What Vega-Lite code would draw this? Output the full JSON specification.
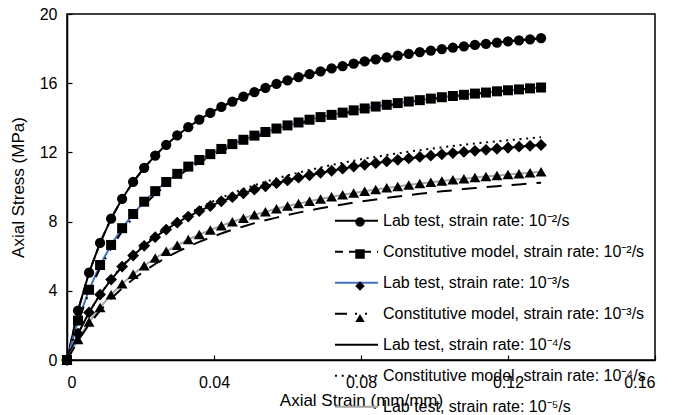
{
  "$schema": "https://vega.github.io/schema/vega-lite/v6.json",
  "width": 588,
  "height": 346,
  "autosize": "none",
  "padding": {"left": 67, "top": 14, "right": 18, "bottom": 55},
  "background": "white",
  "config": {
    "font": "Liberation Sans",
    "view": {"stroke": "black", "strokeWidth": 1.5},
    "axis": {
      "grid": false,
      "domainColor": "black",
      "domainWidth": 1.5,
      "tickColor": "black",
      "tickWidth": 1.2,
      "tickSize": -5,
      "labelColor": "black",
      "titleColor": "black",
      "labelFont": "Liberation Sans",
      "titleFont": "Liberation Sans",
      "labelFontSize": 16,
      "titleFontSize": 17,
      "titleFontWeight": "normal"
    }
  },
  "data": {
    "values": [
      {"x": 0, "L2": 0, "M2": 0, "L3": 0, "M3": 0, "L4": 0, "M4": 0, "L5": 0, "M5": 0},
      {"x": 0.003, "L2": 2.86, "M2": 2.86, "L3": 2.28, "M3": 2.2, "L4": 1.52, "M4": 1.51, "L5": 1.19, "M5": 1.12},
      {"x": 0.006, "L2": 5.05, "M2": 5.05, "L3": 4.06, "M3": 3.93, "L4": 2.75, "M4": 2.75, "L5": 2.19, "M5": 2.06},
      {"x": 0.009, "L2": 6.77, "M2": 6.77, "L3": 5.49, "M3": 5.32, "L4": 3.78, "M4": 3.79, "L5": 3.04, "M5": 2.86},
      {"x": 0.012, "L2": 8.17, "M2": 8.17, "L3": 6.65, "M3": 6.47, "L4": 4.65, "M4": 4.68, "L5": 3.77, "M5": 3.55},
      {"x": 0.015, "L2": 9.32, "M2": 9.32, "L3": 7.62, "M3": 7.44, "L4": 5.4, "M4": 5.44, "L5": 4.4, "M5": 4.15},
      {"x": 0.018, "L2": 10.29, "M2": 10.29, "L3": 8.44, "M3": 8.26, "L4": 6.04, "M4": 6.1, "L5": 4.96, "M5": 4.67},
      {"x": 0.021, "L2": 11.11, "M2": 11.11, "L3": 9.15, "M3": 8.97, "L4": 6.6, "M4": 6.69, "L5": 5.45, "M5": 5.13},
      {"x": 0.024, "L2": 11.82, "M2": 11.82, "L3": 9.76, "M3": 9.58, "L4": 7.1, "M4": 7.21, "L5": 5.89, "M5": 5.55},
      {"x": 0.027, "L2": 12.44, "M2": 12.44, "L3": 10.29, "M3": 10.13, "L4": 7.54, "M4": 7.67, "L5": 6.28, "M5": 5.92},
      {"x": 0.03, "L2": 12.98, "M2": 12.98, "L3": 10.76, "M3": 10.6, "L4": 7.94, "M4": 8.08, "L5": 6.63, "M5": 6.25},
      {"x": 0.033, "L2": 13.46, "M2": 13.46, "L3": 11.18, "M3": 11.03, "L4": 8.29, "M4": 8.45, "L5": 6.96, "M5": 6.55},
      {"x": 0.036, "L2": 13.89, "M2": 13.89, "L3": 11.56, "M3": 11.41, "L4": 8.61, "M4": 8.79, "L5": 7.25, "M5": 6.83},
      {"x": 0.039, "L2": 14.28, "M2": 14.28, "L3": 11.9, "M3": 11.76, "L4": 8.9, "M4": 9.1, "L5": 7.52, "M5": 7.08},
      {"x": 0.042, "L2": 14.63, "M2": 14.63, "L3": 12.2, "M3": 12.07, "L4": 9.17, "M4": 9.38, "L5": 7.76, "M5": 7.31},
      {"x": 0.045, "L2": 14.94, "M2": 14.94, "L3": 12.48, "M3": 12.36, "L4": 9.41, "M4": 9.64, "L5": 7.99, "M5": 7.53},
      {"x": 0.048, "L2": 15.23, "M2": 15.23, "L3": 12.73, "M3": 12.62, "L4": 9.64, "M4": 9.88, "L5": 8.2, "M5": 7.72},
      {"x": 0.051, "L2": 15.49, "M2": 15.49, "L3": 12.97, "M3": 12.86, "L4": 9.85, "M4": 10.1, "L5": 8.39, "M5": 7.91},
      {"x": 0.054, "L2": 15.73, "M2": 15.73, "L3": 13.18, "M3": 13.08, "L4": 10.04, "M4": 10.3, "L5": 8.57, "M5": 8.08},
      {"x": 0.057, "L2": 15.96, "M2": 15.96, "L3": 13.38, "M3": 13.28, "L4": 10.22, "M4": 10.49, "L5": 8.74, "M5": 8.23},
      {"x": 0.06, "L2": 16.16, "M2": 16.16, "L3": 13.56, "M3": 13.47, "L4": 10.38, "M4": 10.67, "L5": 8.9, "M5": 8.38},
      {"x": 0.063, "L2": 16.35, "M2": 16.35, "L3": 13.73, "M3": 13.64, "L4": 10.54, "M4": 10.83, "L5": 9.04, "M5": 8.52},
      {"x": 0.066, "L2": 16.53, "M2": 16.53, "L3": 13.89, "M3": 13.81, "L4": 10.68, "M4": 10.99, "L5": 9.18, "M5": 8.65},
      {"x": 0.069, "L2": 16.69, "M2": 16.69, "L3": 14.04, "M3": 13.96, "L4": 10.82, "M4": 11.13, "L5": 9.31, "M5": 8.77},
      {"x": 0.072, "L2": 16.85, "M2": 16.85, "L3": 14.17, "M3": 14.1, "L4": 10.94, "M4": 11.27, "L5": 9.43, "M5": 8.89},
      {"x": 0.075, "L2": 16.99, "M2": 16.99, "L3": 14.3, "M3": 14.24, "L4": 11.06, "M4": 11.4, "L5": 9.55, "M5": 8.99},
      {"x": 0.078, "L2": 17.13, "M2": 17.13, "L3": 14.43, "M3": 14.36, "L4": 11.18, "M4": 11.52, "L5": 9.65, "M5": 9.1},
      {"x": 0.081, "L2": 17.26, "M2": 17.26, "L3": 14.54, "M3": 14.48, "L4": 11.28, "M4": 11.64, "L5": 9.76, "M5": 9.19},
      {"x": 0.084, "L2": 17.38, "M2": 17.38, "L3": 14.65, "M3": 14.59, "L4": 11.38, "M4": 11.74, "L5": 9.85, "M5": 9.28},
      {"x": 0.087, "L2": 17.49, "M2": 17.49, "L3": 14.75, "M3": 14.7, "L4": 11.48, "M4": 11.85, "L5": 9.95, "M5": 9.37},
      {"x": 0.09, "L2": 17.6, "M2": 17.6, "L3": 14.85, "M3": 14.8, "L4": 11.57, "M4": 11.94, "L5": 10.03, "M5": 9.45},
      {"x": 0.093, "L2": 17.7, "M2": 17.7, "L3": 14.94, "M3": 14.9, "L4": 11.65, "M4": 12.04, "L5": 10.12, "M5": 9.53},
      {"x": 0.096, "L2": 17.8, "M2": 17.8, "L3": 15.02, "M3": 14.99, "L4": 11.74, "M4": 12.13, "L5": 10.2, "M5": 9.61},
      {"x": 0.099, "L2": 17.89, "M2": 17.89, "L3": 15.11, "M3": 15.07, "L4": 11.81, "M4": 12.21, "L5": 10.27, "M5": 9.68},
      {"x": 0.102, "L2": 17.97, "M2": 17.97, "L3": 15.19, "M3": 15.15, "L4": 11.89, "M4": 12.29, "L5": 10.35, "M5": 9.75},
      {"x": 0.105, "L2": 18.06, "M2": 18.06, "L3": 15.26, "M3": 15.23, "L4": 11.96, "M4": 12.37, "L5": 10.42, "M5": 9.81},
      {"x": 0.108, "L2": 18.13, "M2": 18.13, "L3": 15.33, "M3": 15.3, "L4": 12.03, "M4": 12.44, "L5": 10.48, "M5": 9.88},
      {"x": 0.111, "L2": 18.21, "M2": 18.21, "L3": 15.4, "M3": 15.38, "L4": 12.09, "M4": 12.51, "L5": 10.55, "M5": 9.94},
      {"x": 0.114, "L2": 18.28, "M2": 18.28, "L3": 15.46, "M3": 15.44, "L4": 12.15, "M4": 12.58, "L5": 10.61, "M5": 9.99},
      {"x": 0.117, "L2": 18.35, "M2": 18.35, "L3": 15.53, "M3": 15.51, "L4": 12.21, "M4": 12.64, "L5": 10.66, "M5": 10.05},
      {"x": 0.12, "L2": 18.42, "M2": 18.42, "L3": 15.59, "M3": 15.57, "L4": 12.27, "M4": 12.7, "L5": 10.72, "M5": 10.1},
      {"x": 0.123, "L2": 18.48, "M2": 18.48, "L3": 15.64, "M3": 15.63, "L4": 12.33, "M4": 12.76, "L5": 10.77, "M5": 10.15},
      {"x": 0.126, "L2": 18.54, "M2": 18.54, "L3": 15.7, "M3": 15.69, "L4": 12.38, "M4": 12.82, "L5": 10.83, "M5": 10.2},
      {"x": 0.129, "L2": 18.6, "M2": 18.6, "L3": 15.75, "M3": 15.74, "L4": 12.43, "M4": 12.88, "L5": 10.88, "M5": 10.25}
    ]
  },
  "transform": [{"fold": ["L2", "M2", "L3", "M3", "L4", "M4", "L5", "M5"], "as": ["s", "v"]}],
  "encoding": {
    "x": {
      "field": "x",
      "type": "quantitative",
      "scale": {"domain": [0, 0.16], "nice": false},
      "axis": {"values": [0, 0.04, 0.08, 0.12, 0.16], "format": ".2~f", "title": "Axial Strain (mm/mm)", "labelPadding": 19, "titlePadding": 2}
    },
    "y": {
      "field": "v",
      "type": "quantitative",
      "scale": {"domain": [0, 20], "nice": false},
      "axis": {"values": [0, 4, 8, 12, 16, 20], "title": "Axial Stress (MPa)", "labelPadding": 15, "titlePadding": 12}
    }
  },
  "layer": [
    {
      "mark": {"type": "line", "strokeWidth": 2},
      "encoding": {
        "color": {
          "field": "s", "type": "nominal",
          "scale": {"domain": ["L2", "M2", "L3", "M3", "L4", "M4", "L5", "M5"], "range": ["#000000", "#000000", "#4472C4", "#000000", "#000000", "#000000", "#A5A5A5", "#000000"]},
          "legend": {
            "orient": "none", "legendX": 267, "legendY": 184.2, "title": null, "padding": 0,
            "symbolType": "stroke", "symbolSize": 1849, "symbolStrokeWidth": 2, "symbolOpacity": 1,
            "labelFont": "Liberation Sans", "labelFontSize": 16, "labelColor": "black", "labelOffset": 4, "rowPadding": -15, "labelLimit": 400,
            "labelExpr": "{'L2':'Lab test, strain rate: 10⁻²/s','M2':'Constitutive model, strain rate: 10⁻²/s','L3':'Lab test, strain rate: 10⁻³/s','M3':'Constitutive model, strain rate: 10⁻³/s','L4':'Lab test, strain rate: 10⁻⁴/s','M4':'Constitutive model, strain rate: 10⁻⁴/s','L5':'Lab test, strain rate: 10⁻⁵/s','M5':'Constitutive model, strain rate: 10⁻⁵/s'}[datum.value]"
          }
        },
        "strokeDash": {
          "field": "s", "type": "nominal",
          "scale": {"domain": ["L2", "M2", "L3", "M3", "L4", "M4", "L5", "M5"], "range": [[1, 0], [8, 6], [1, 0], [12, 8, 2, 8, 2, 12], [1, 0], [2, 4.7], [1, 0], [15, 10]]},
          "legend": {
            "orient": "none", "legendX": 267, "legendY": 184.2, "title": null, "padding": 0,
            "symbolType": "stroke", "symbolSize": 1849, "symbolStrokeWidth": 2, "symbolOpacity": 1,
            "labelFont": "Liberation Sans", "labelFontSize": 16, "labelColor": "black", "labelOffset": 4, "rowPadding": -15, "labelLimit": 400,
            "labelExpr": "{'L2':'Lab test, strain rate: 10⁻²/s','M2':'Constitutive model, strain rate: 10⁻²/s','L3':'Lab test, strain rate: 10⁻³/s','M3':'Constitutive model, strain rate: 10⁻³/s','L4':'Lab test, strain rate: 10⁻⁴/s','M4':'Constitutive model, strain rate: 10⁻⁴/s','L5':'Lab test, strain rate: 10⁻⁵/s','M5':'Constitutive model, strain rate: 10⁻⁵/s'}[datum.value]"
          }
        }
      }
    },
    {
      "transform": [{"filter": "datum.s == 'L2'"}],
      "mark": {"type": "point", "filled": true, "opacity": 1, "color": "black", "shape": "circle", "size": 105}
    },
    {
      "transform": [{"filter": "datum.s == 'L3'"}],
      "mark": {"type": "point", "filled": true, "opacity": 1, "color": "black", "shape": "square", "size": 100}
    },
    {
      "transform": [{"filter": "datum.s == 'L4'"}],
      "mark": {"type": "point", "filled": true, "opacity": 1, "color": "black", "shape": "diamond", "size": 140}
    },
    {
      "transform": [{"filter": "datum.s == 'L5'"}],
      "mark": {"type": "point", "filled": true, "opacity": 1, "color": "black", "shape": "triangle-up", "size": 120}
    },
    {
      "mark": {"type": "point", "filled": true, "opacity": 0, "size": 90},
      "encoding": {
        "shape": {
          "field": "s", "type": "nominal",
          "scale": {"domain": ["L2", "M2", "L3", "M3", "L4", "M4", "L5", "M5", "zz"], "range": ["circle", "circle", "square", "square", "diamond", "diamond", "triangle-up", "triangle-up", "circle"]},
          "legend": {
            "orient": "none", "legendX": 285, "legendY": 200, "title": null, "padding": 0,
            "symbolOpacity": 1, "symbolSize": 90, "symbolStrokeWidth": 0,
            "labelFont": "Liberation Sans", "labelFontSize": 16, "labelOpacity": 0, "labelOffset": 4, "rowPadding": -0.7, "labelLimit": 400,
            "labelExpr": "{'L2':'Lab test, strain rate: 10⁻²/s','M2':'Constitutive model, strain rate: 10⁻²/s','L3':'Lab test, strain rate: 10⁻³/s','M3':'Constitutive model, strain rate: 10⁻³/s','L4':'Lab test, strain rate: 10⁻⁴/s','M4':'Constitutive model, strain rate: 10⁻⁴/s','L5':'Lab test, strain rate: 10⁻⁵/s','M5':'Constitutive model, strain rate: 10⁻⁵/s'}[datum.value] || ' '"
          }
        },
        "fill": {
          "field": "s", "type": "nominal",
          "scale": {"domain": ["L2", "M2", "L3", "M3", "L4", "M4", "L5", "M5", "zz"], "range": ["#000000", "transparent", "#000000", "transparent", "#000000", "transparent", "#000000", "transparent", "transparent"]},
          "legend": {
            "orient": "none", "legendX": 285, "legendY": 200, "title": null, "padding": 0,
            "symbolOpacity": 1, "symbolSize": 90, "symbolStrokeWidth": 0,
            "labelFont": "Liberation Sans", "labelFontSize": 16, "labelOpacity": 0, "labelOffset": 4, "rowPadding": -0.7, "labelLimit": 400,
            "labelExpr": "{'L2':'Lab test, strain rate: 10⁻²/s','M2':'Constitutive model, strain rate: 10⁻²/s','L3':'Lab test, strain rate: 10⁻³/s','M3':'Constitutive model, strain rate: 10⁻³/s','L4':'Lab test, strain rate: 10⁻⁴/s','M4':'Constitutive model, strain rate: 10⁻⁴/s','L5':'Lab test, strain rate: 10⁻⁵/s','M5':'Constitutive model, strain rate: 10⁻⁵/s'}[datum.value] || ' '"
          }
        }
      }
    }
  ]
}
